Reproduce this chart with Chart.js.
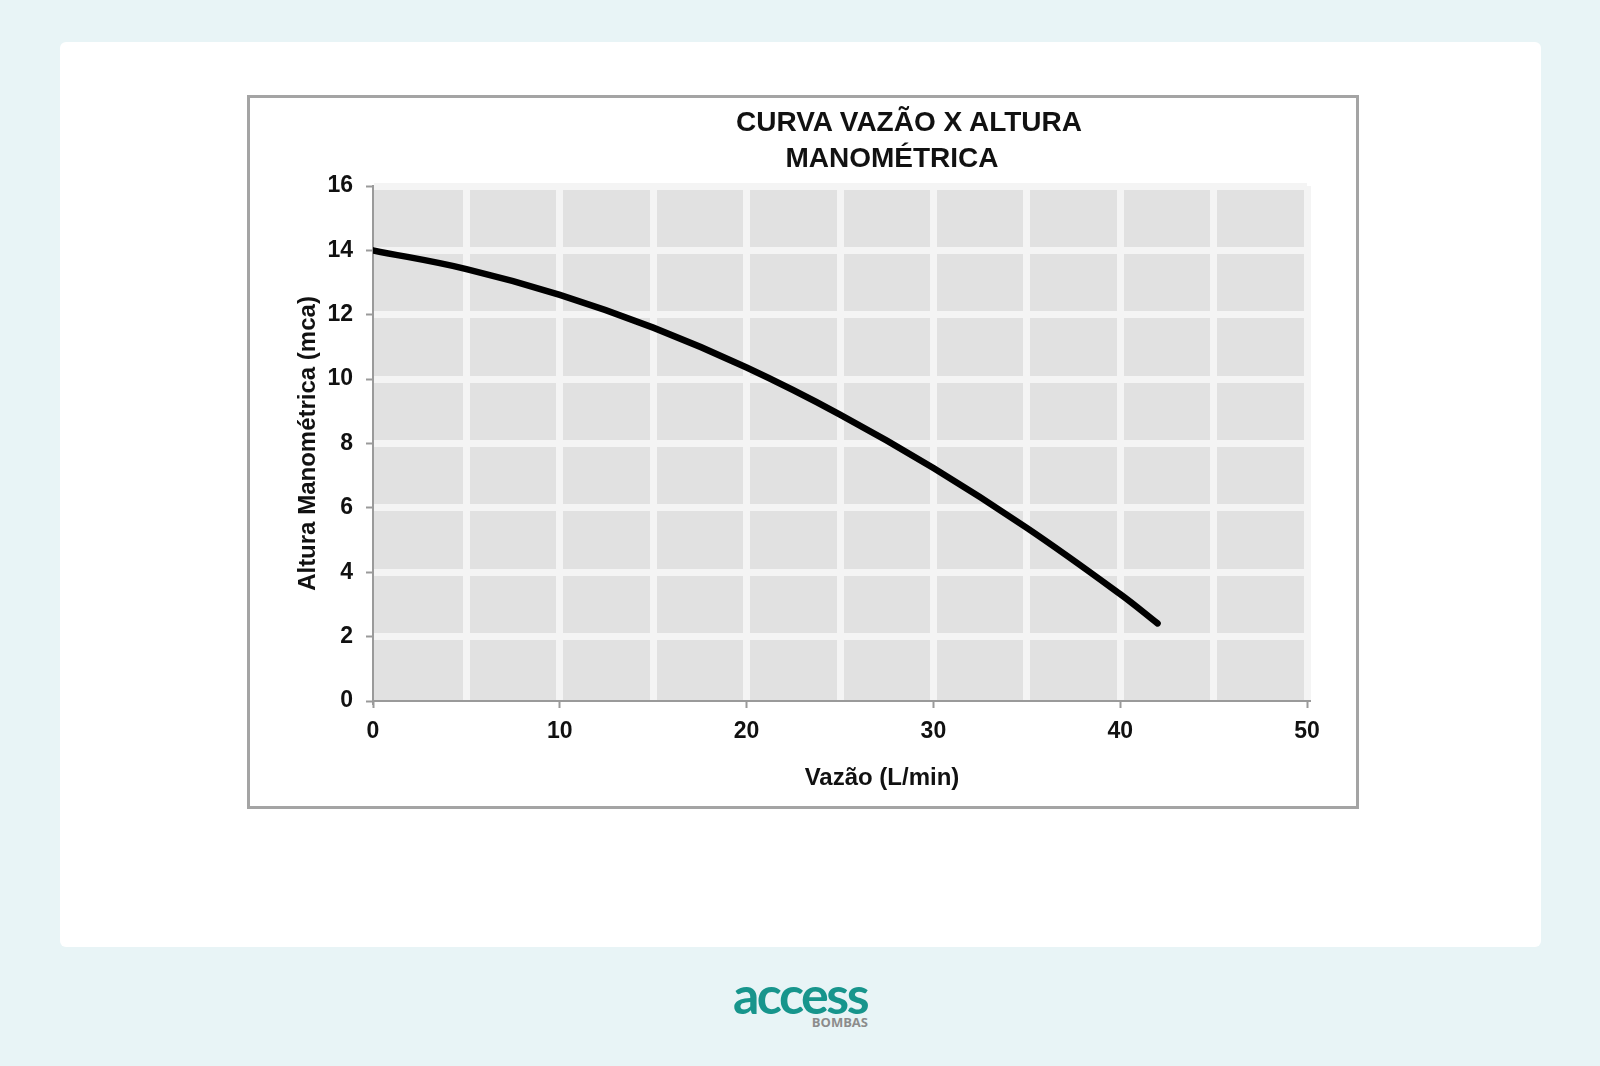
<!DOCTYPE html>
<html lang="pt-BR">
<head>
<meta charset="utf-8">
<title>Curva Vazão x Altura Manométrica</title>
<script src="https://cdn.jsdelivr.net/npm/chart.js@4.4.1/dist/chart.umd.min.js"></script>
<style>
  body {
    margin: 0;
    width: 1600px;
    height: 1066px;
    background: #e8f4f6;
    font-family: "Liberation Sans", Arial, sans-serif;
    position: relative;
    overflow: hidden;
  }
  .card {
    position: absolute;
    left: 60px;
    top: 42px;
    width: 1481px;
    height: 905px;
    background: #fff;
    border-radius: 6px;
  }
  .frame {
    position: absolute;
    left: 247px;
    top: 95px;
    width: 1112px;
    height: 714px;
    box-sizing: border-box;
    border: 3px solid #a4a4a4;
  }
  .frame canvas {
    position: absolute;
    left: 0;
    top: 0;
  }
  .txt {
    position: absolute;
    width: 600px;
    text-align: center;
    font-weight: bold;
    color: #111;
    white-space: nowrap;
  }
  .chart-title {
    font-size: 28px;
    line-height: 35px;
  }
  .x-title {
    font-size: 24px;
    line-height: 24px;
  }
  .logo {
    position: absolute;
    left: 700px;
    top: 960px;
    width: 200px;
    text-align: center;
  }
  .logo .word {
    padding-top: 10px;
    font-family: Lato, "Open Sans", sans-serif;
    font-weight: 700;
    font-size: 52px;
    line-height: 48px;
    letter-spacing: -2.5px;
    color: #17958c;
  }
  .logo .sub {
    position: absolute;
    right: 32px;
    top: 53px;
    font-family: "Open Sans", sans-serif;
    font-weight: 700;
    font-size: 13px;
    color: #8c8c8c;
  }
</style>
</head>
<body>
<div class="card"></div>

<div class="frame">
  <canvas id="curveChart" width="1106" height="708"></canvas>
</div>

<div class="txt chart-title" style="left:609px; top:104px;">CURVA VAZÃO X ALTURA</div>
<div class="txt chart-title" style="left:592px; top:140px;">MANOMÉTRICA</div>
<div class="txt x-title" style="left:582px; top:765px;">Vazão (L/min)</div>

<div class="logo">
  <div class="word">access</div>
  <div class="sub">BOMBAS</div>
</div>

<script>
// vazão (L/min) e altura manométrica (mca)
const flowValues = [0, 5, 10, 15, 20, 25, 30, 35, 40, 42];
const headValues = [14, 13.42, 12.62, 11.6, 10.36, 8.9, 7.24, 5.38, 3.32, 2.41];

const xTickLabels = [0, 10, 20, 30, 40, 50];
const yTickLabels = [0, 2, 4, 6, 8, 10, 12, 14, 16];

const tickFont = { family: "'Liberation Sans', Arial, sans-serif", size: 23, weight: "bold" };

// gray plot background behind the grid
const plotBackground = {
    id: "plotBackground",
    beforeDraw(chart) {
        const { ctx, chartArea } = chart;
        ctx.save();
        ctx.fillStyle = "#e1e1e1";
        ctx.fillRect(chartArea.left, chartArea.top, chartArea.width, chartArea.height);
        ctx.restore();
    }
};

const points = flowValues.map((q, i) => ({ x: q, y: headValues[i] }));

new Chart(document.getElementById("curveChart"), {
    type: "line",
    data: {
        datasets: [{
            label: "Altura Manométrica",
            data: points,
            borderColor: "#000",
            borderWidth: 6.5,
            borderCapStyle: "round",
            borderJoinStyle: "round",
            pointRadius: 0,
            tension: 0.4,
            fill: false
        }]
    },
    options: {
        responsive: false,
        animation: false,
        layout: { padding: { left: 20, right: 49, top: 88, bottom: 0 } },
        plugins: {
            legend: { display: false },
            tooltip: { enabled: false }
        },
        scales: {
            x: {
                type: "linear",
                min: 0,
                max: 50,
                afterFit: (scale) => { scale.height = 105; },
                ticks: {
                    stepSize: 5,
                    autoSkip: false,
                    maxRotation: 0,
                    padding: 10,
                    color: "#111",
                    font: tickFont,
                    callback: (v) => xTickLabels.includes(v) ? v : ""
                },
                grid: {
                    color: (c) => c.tick && c.tick.value === 0 ? "rgba(0,0,0,0)" : "#f4f4f4",
                    lineWidth: 7,
                    tickLength: 7,
                    tickWidth: 2,
                    tickColor: (c) => c.tick && xTickLabels.includes(c.tick.value) ? "#9a9a9a" : "rgba(0,0,0,0)"
                },
                border: { color: "#9a9a9a", width: 2 }
            },
            y: {
                min: 0,
                max: 16,
                afterFit: (scale) => { scale.width = 103; },
                ticks: {
                    stepSize: 2,
                    padding: 13,
                    color: "#111",
                    font: tickFont,
                    callback: (v) => yTickLabels.includes(v) ? v : ""
                },
                grid: {
                    color: (c) => c.tick && c.tick.value === 0 ? "rgba(0,0,0,0)" : "#f4f4f4",
                    lineWidth: 7,
                    tickLength: 7,
                    tickWidth: 2,
                    tickColor: "#9a9a9a"
                },
                border: { color: "#9a9a9a", width: 2 },
                title: {
                    display: true,
                    text: "Altura Manométrica (mca)",
                    color: "#111",
                    padding: { top: 24, bottom: 0 },
                    font: { family: "'Liberation Sans', Arial, sans-serif", size: 24, weight: "bold" }
                }
            }
        }
    },
    plugins: [plotBackground]
});
</script>
</body>
</html>
